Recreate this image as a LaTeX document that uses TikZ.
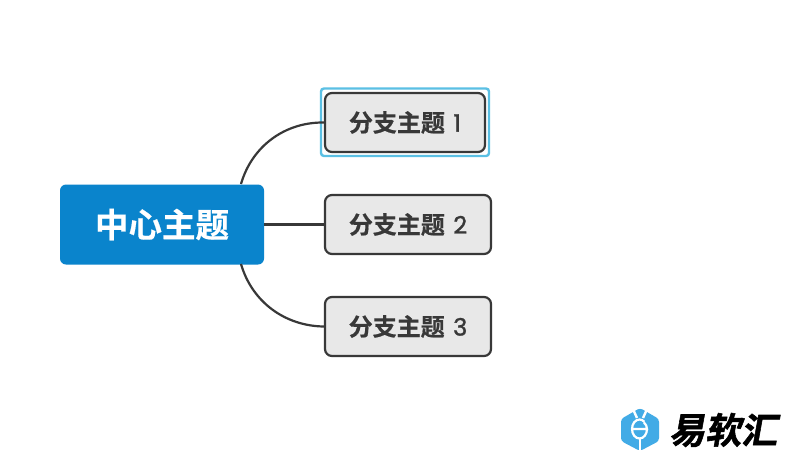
\documentclass[tikz,border=0pt]{standalone}
\usepackage{fontspec}
\newfontfamily\cjk{Noto Sans CJK SC}[BoldFont={Noto Sans CJK SC Bold},BoldFeatures={FakeBold=0.6}]
\newfontfamily\cjkslant{Noto Sans CJK SC Bold}[FakeSlant=0.18,FakeBold=1.5]
\newfontfamily\numfont{Poppins}[FakeBold=1.4]
\newcommand{\fenzhinum}[1]{\hspace{3pt}{\mdseries\numfont #1}\hspace{3pt}}
\definecolor{zhongxinblue}{HTML}{0A84CC}
\definecolor{fenzhigray}{HTML}{E8E8E8}
\definecolor{linegray}{HTML}{383838}
\definecolor{selectblue}{HTML}{5BC0E4}
\definecolor{logoblue}{HTML}{42ABE6}
\tikzset{
	zhongxin/.style={fill=zhongxinblue,rounded corners=6pt,minimum width=204pt,minimum height=80pt,inner sep=0pt,text=white,font=\cjk\bfseries\fontsize{33.5}{35}\selectfont},
	fenzhi/.style={draw=linegray,line width=2.2pt,fill=fenzhigray,rounded corners=7pt,minimum height=59pt,inner sep=0pt,text=linegray,font=\cjk\bfseries\fontsize{24}{26}\selectfont},
	branch/.style={draw=linegray,line width=2.2pt}
}
\begin{document}
\begin{tikzpicture}[x=1pt,y=-1pt]
	\useasboundingbox[fill=white](0,0) rectangle (786,455);
	
	\draw[selectblue,line width=2.4pt,rounded corners=3pt](321,88.5)--(489,88.5)--(489,156)--(321,156)--cycle;
	
	\node[zhongxin](center) at (162,224.5){中心主题};
	\node[fenzhi,minimum width=160pt](fenzhione) at (405,122.5){分支主题 \fenzhinum{1}};
	\node[fenzhi,minimum width=166pt](fenzhitwo) at (408,224.5){分支主题 \fenzhinum{2}};
	\node[fenzhi,minimum width=166pt](fenzhithree) at (408,326.5){分支主题 \fenzhinum{3}};
	
	\coordinate (upstart) at (241,184);
	\coordinate (downstart) at (241,264);
	\draw[branch](upstart) .. controls (252,146) and (285,122) .. (fenzhione.west);
	\draw[branch](center.east)--(fenzhitwo.west);
	\draw[branch](downstart) .. controls (252,302) and (285,326) .. (fenzhithree.west);
	
	% logo
	\fill[logoblue,rounded corners=3pt](640,408)--(659,419)--(659,441)--(640,451)--(621,441)--(621,419)--cycle;
	\draw[white,line width=2.4pt](632,407)--(637,418) (648,407)--(643,418);
	\draw[white,line width=2.4pt](640,438)--(640,451);
	\draw[white,line width=2.2pt](633,429)--(647,429) arc (0:-50:8.5) (647,429) arc (0:310:7.5 and 9.5);
	\node[anchor=west,inner sep=0pt,text=black,font=\cjkslant\fontsize{36}{38}\selectfont](logotext) at (669,430){易软汇};
\end{tikzpicture}
\end{document}
